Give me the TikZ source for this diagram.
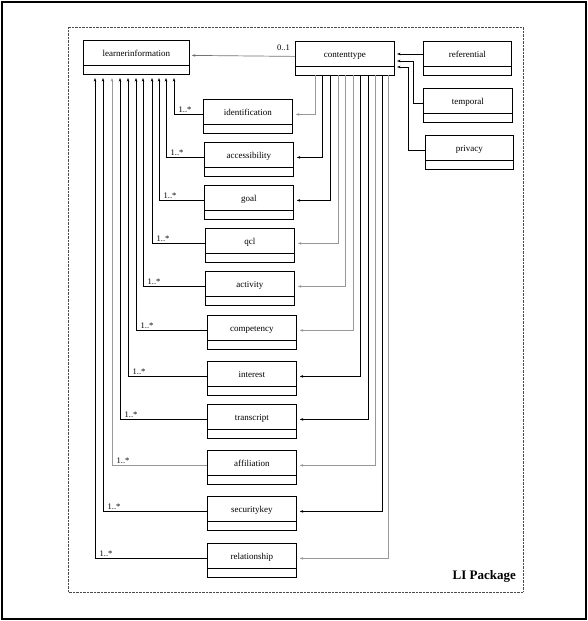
\documentclass[tikz,border=0pt]{standalone}
\usepackage{fontspec}
\setmainfont{Liberation Serif}
\usetikzlibrary{arrows.meta}
\definecolor{lgray}{gray}{0.6}
\tikzset{
  x=1pt,y=-1pt,
  umlbox/.style={draw,line width=0.8pt,anchor=north west,minimum width=89pt,minimum height=34pt,
    inner sep=0pt,text height=6pt,text depth=8pt,font=\fontsize{9}{10}\selectfont,
    path picture={\draw[line width=0.8pt] ([yshift=9pt]path picture bounding box.south west) -- ([yshift=9pt]path picture bounding box.south east);}},
  conn/.style={line width=0.7pt,-{Stealth[length=3.5pt,width=2.6pt]}},
  mult/.style={font=\fontsize{8.5}{9}\selectfont,inner sep=0pt,anchor=south west}
}
\begin{document}
\begin{tikzpicture}
\useasboundingbox (0,0) rectangle (588,621);
\draw[line width=1.2pt] (2,2) rectangle (586,619);
\draw[line width=0.6pt,dash pattern=on 0.7pt off 0.7pt,black!70] (68,27) rectangle (523,592);
\node[font=\fontsize{13}{14}\selectfont\bfseries,anchor=south east,inner sep=0pt] (pkg) at (516,583) {LI Package};

\node[umlbox,minimum width=106pt] (li) at (83,40) {learnerinformation};
\node[umlbox,minimum width=99pt] (ct) at (295,41) {contenttype};
\node[umlbox,minimum width=88pt] (ref) at (423,41) {referential};
\node[umlbox] (tem) at (423,88) {temporal};
\node[umlbox,minimum width=88pt] (pri) at (425,135) {privacy};

\node[umlbox] (b1) at (203,99) {identification};
\node[umlbox] (b2) at (204,142) {accessibility};
\node[umlbox] (b3) at (204,185) {goal};
\node[umlbox] (b4) at (205,228) {qcl};
\node[umlbox] (b5) at (205,271) {activity};
\node[umlbox] (b6) at (207,315) {competency};
\node[umlbox] (b7) at (207,361) {interest};
\node[umlbox] (b8) at (207,404) {transcript};
\node[umlbox] (b9) at (207,450) {affiliation};
\node[umlbox] (b10) at (207,496) {securitykey};
\node[umlbox] (b11) at (207,543) {relationship};

% contenttype -> learnerinformation
\draw[conn,black!55] ([yshift=2pt]ct.west) -- ([xshift=2pt,yshift=2pt]li.east);
\node[mult,anchor=south east] (m0) at (290,51) {0..1};

% referential / temporal / privacy -> contenttype
\coordinate (t1) at (397,54);
\coordinate (t2) at (397,61);
\coordinate (t3) at (397,67);
\draw[conn] (ref.west |- t1) -- (t1);
\draw[conn] ([yshift=2pt]tem.west) -| (413,61) -- (t2);
\draw[conn] ([yshift=2pt]pri.west) -| (408,67) -- (t3);

% left columns (to learnerinformation)
\foreach \b/\x/\c in {b1/174/black,b2/166/black,b3/159/black,b4/152/black,b5/143/black,b6/136/black,b7/128/black,b8/120/black,b9/112/lgray,b10/103/black,b11/95/black}{
  \coordinate (L\b) at (\x,78);
  \draw[conn,\c] ([yshift=2pt]\b.west) -| (L\b);
  \node[mult] (M\b) at ([xshift=4.5pt,yshift=3.5pt]L\b |- \b.west) {1..*};
}
% right columns (from contenttype)
\foreach \b/\x/\c in {b1/315/lgray,b2/322/black,b3/330/black,b4/338/lgray,b5/345/lgray,b6/353/lgray,b7/360/black,b8/368/black,b9/375/lgray,b10/382/black,b11/388/lgray}{
  \coordinate (R\b) at (\x,75);
  \draw[conn,\c] (R\b) |- ([xshift=3pt,yshift=2pt]\b.east);
}
\end{tikzpicture}
\end{document}
